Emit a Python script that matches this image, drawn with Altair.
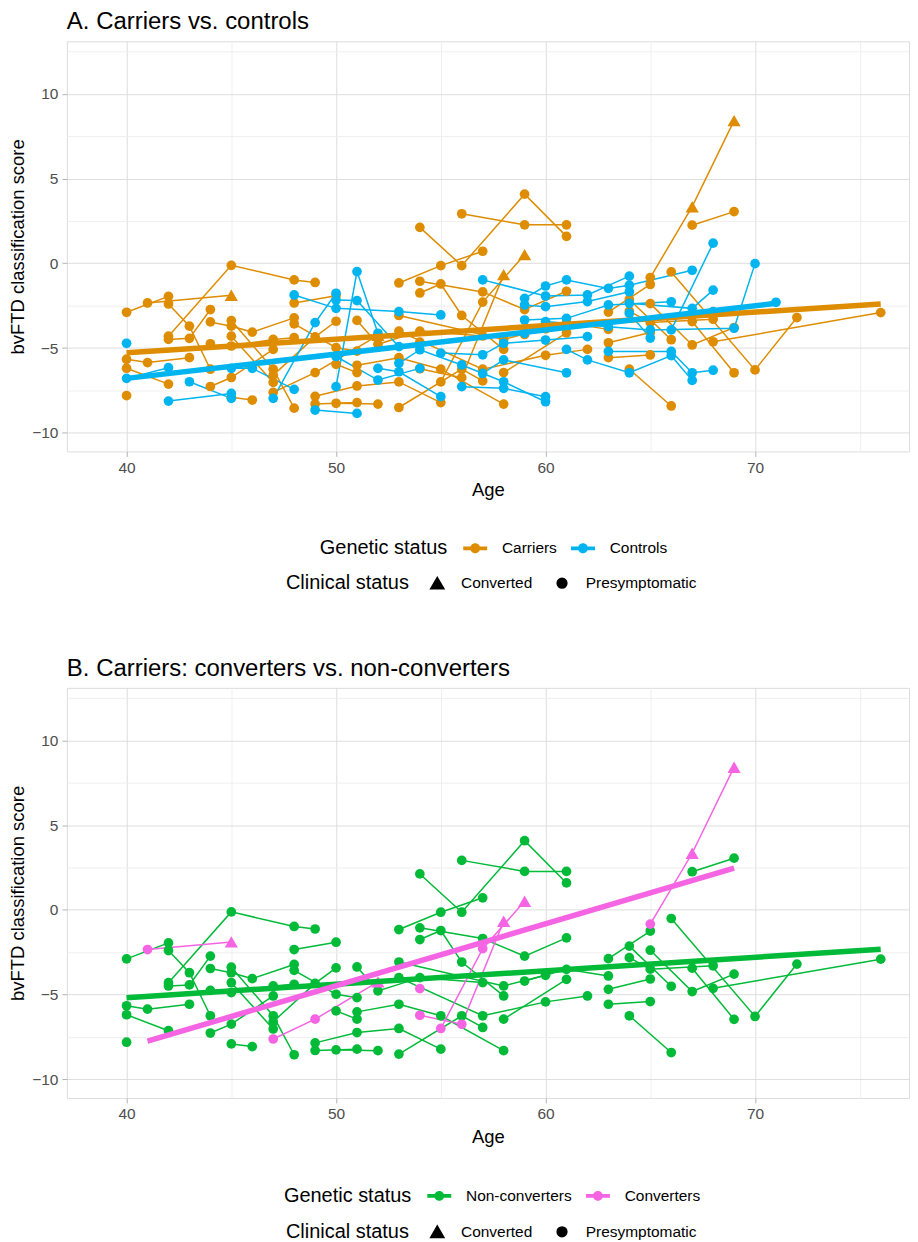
import altair as alt
import pandas as pd

FONT = "Liberation Sans"

# ---- Carriers who did not convert (green in B, orange in A) ----
nc_id = [1, 1, 2, 2, 2, 3, 3, 4, 5, 5, 5, 6, 6, 6, 6, 7, 7, 7, 8, 8, 8, 8,
         9, 9, 9, 10, 10, 10, 11, 11, 12, 12, 13, 13, 13, 14, 14, 14, 15, 15,
         16, 16, 16, 17, 17, 18, 18, 18, 18, 19, 19, 20, 21, 21,
         22, 22, 22, 22, 23, 23, 23, 23, 24, 24, 24, 25, 25, 25, 25,
         26, 26, 26, 27, 27, 27, 28, 28, 28, 28, 29, 29, 29, 29,
         30, 30, 30, 31, 31, 31, 31, 34, 34, 35, 35, 35,
         36, 36, 36, 37, 37, 38, 38, 39, 39, 39, 40, 40, 41, 41, 42, 42,
         43, 43, 44, 44, 44, 45, 45, 46, 46]
nc_age = [40, 42, 40, 41, 43, 40, 42, 40, 42, 43, 44, 42, 45, 48, 49, 42, 43, 44, 44, 45, 46, 48,
          44, 45, 47, 45, 47, 48, 45, 47, 45, 46, 45, 47, 48, 47, 49, 50, 48, 50,
          48, 50, 51, 50, 51, 49, 51, 53, 55, 49, 51, 44, 50, 52,
          51, 53, 55, 58, 51, 52, 54, 57, 53, 56, 57, 54, 56, 59, 61,
          56, 59, 61, 53, 55, 57, 54, 55, 56, 58, 54, 57, 59, 61,
          53, 58, 60, 53, 57, 60, 62, 58, 61, 59, 61, 63,
          66, 70, 72, 68, 76, 67, 69, 65, 67, 69, 64, 66, 64, 66, 67, 69,
          63, 65, 64, 65, 68, 63, 65, 63, 65]
nc_score = [-2.89, -1.95, -5.66, -5.86, -5.57, -6.19, -7.13, -7.81, -2.40, -3.71, -6.25,
            -4.30, -0.12, -0.98, -1.13, -4.49, -4.43, -2.73, -3.46, -3.71, -4.06, -3.22,
            -7.27, -6.74, -5.08, -3.38, -6.25, -8.55, -4.30, -7.03, -7.91, -8.07,
            -4.88, -4.49, -4.39, -6.60, -4.34, -3.42, -2.34, -1.91,
            -3.57, -4.98, -5.18, -5.96, -6.45, -7.85, -7.24, -7.00, -8.22, -8.30, -8.22,
            -4.75, -8.26, -8.31,
            -6.02, -5.57, -6.25, -8.31, -3.37, -4.78, -4.00, -4.29, -8.51, -6.25, -6.94,
            2.12, -0.14, 4.08, 1.59, 2.92, 2.27, 2.27, -1.16, -0.14, 0.71,
            -1.75, -1.22, -3.08, -5.08, -1.06, -1.69, -2.73, -1.65,
            -3.08, -4.49, -3.86, -4.00, -6.25, -5.43, -5.08, -6.45, -4.10, -4.20, -3.51, -3.90,
            -0.51, -6.29, -3.20, -4.63, -2.91, -3.44, -6.46, -2.38, -4.82, -3.79,
            -6.25, -8.42, -2.14, -4.51, 2.25, 3.05,
            -2.88, -1.25, -2.82, -3.50, -3.30, -5.57, -5.41, -4.69, -4.08]

# ---- Carriers who converted (pink in B, orange in A) ----
cv_id = [101, 101, 102, 102, 102, 103, 103, 103, 104, 105, 105, 105, 106, 106, 106]
cv_age = [41, 45, 47, 49, 52, 54, 56, 58, 54, 55, 57, 59, 65, 67, 69]
cv_score = [-2.34, -1.89, -7.62, -6.45, -4.25, -6.22, -6.75, -0.67, -4.65,
            -7.00, -2.29, 0.51, -0.84, 3.34, 8.42]
cv_status = ["Presymptomatic", "Converted", "Presymptomatic", "Presymptomatic", "Converted",
             "Presymptomatic", "Presymptomatic", "Converted", "Presymptomatic",
             "Presymptomatic", "Presymptomatic", "Converted", "Presymptomatic",
             "Converted", "Converted"]

# ---- Controls (blue in A) ----
ct_id = [201, 202, 202, 203, 203, 204, 204, 205, 205, 205, 206, 206, 206,
         207, 207, 207, 207, 208, 208, 208, 209, 209, 211, 211, 211, 212, 212, 212,
         214, 214, 214, 215, 215, 215, 215, 215, 216, 216, 216, 216, 216,
         217, 217, 217, 217, 218, 218, 218, 219, 219, 219,
         220, 220, 220, 220, 220, 220, 221, 221, 221, 221, 222, 222, 222, 222,
         223, 223, 223, 223, 223, 223, 224, 224, 226, 226, 226, 226, 226,
         227, 227, 227, 227, 228, 228, 229, 229, 229, 231, 231]
ct_age = [40, 40, 42, 42, 45, 43, 45, 45, 46, 48, 47, 49, 50,
          48, 50, 53, 55, 50, 51, 52, 49, 51, 50, 51, 53, 50, 52, 54,
          52, 53, 55, 53, 54, 56, 58, 60, 55, 57, 58, 60, 62,
          57, 60, 62, 64, 56, 58, 60, 57, 58, 61,
          59, 60, 61, 63, 64, 67, 59, 60, 62, 64, 59, 61, 63, 66,
          59, 60, 63, 65, 69, 70, 66, 68, 61, 62, 64, 66, 67,
          63, 66, 67, 68, 64, 65, 64, 67, 68, 68, 71]
ct_score = [-4.72, -6.79, -6.16, -8.13, -7.68, -6.99, -7.97, -6.20, -6.20, -7.44,
            -7.97, -3.50, -1.77, -1.87, -2.66, -2.85, -3.05, -7.28, -0.49, -4.13,
            -8.66, -8.86, -2.17, -2.20, -4.92, -5.50, -6.89, -6.20,
            -6.20, -6.40, -7.87, -5.90, -5.10, -6.00, -6.99, -8.17,
            -5.30, -5.40, -4.72, -4.53, -4.33, -0.98, -1.93, -1.87, -0.76,
            -7.28, -7.38, -7.87, -6.50, -5.70, -6.46,
            -2.07, -1.34, -0.98, -1.48, -1.29, -0.41, -2.46, -2.56, -2.26, -1.68,
            -3.35, -3.25, -2.46, -2.27, -4.13, -3.44, -3.74, -3.93, -3.83, -0.02,
            -3.93, 1.19, -5.08, -5.70, -6.46, -5.45, -6.91,
            -5.20, -5.20, -6.46, -6.31, -2.95, -4.41, -2.36, -2.66, -1.58, -2.85, -2.30]

# ---- Group trend lines (end points) ----
trendA_group = ["Carriers", "Carriers", "Controls", "Controls"]
trendA_age = [40, 76, 40, 71]
trendA_score = [-5.28, -2.40, -6.79, -2.36]
trendB_group = ["Non-converters", "Non-converters", "Converters", "Converters"]
trendB_age = [40, 76, 41, 69]
trendB_score = [-5.18, -2.32, -7.75, 2.46]

groupsA = ["Carriers", "Controls"]
colorsA = ["#DE8C00", "#00B4F0"]
groupsB = ["Non-converters", "Converters"]
colorsB = ["#00BA38", "#F564E3"]
status_domain = ["Converted", "Presymptomatic"]
status_shapes = ["triangle-up", "circle"]
status_sizes = [175, 95]

# ---- tables ----
nc = pd.DataFrame({"subject": nc_id, "age": nc_age, "score": nc_score,
                   "status": "Presymptomatic"})
cv = pd.DataFrame({"subject": cv_id, "age": cv_age, "score": cv_score, "status": cv_status})
ct = pd.DataFrame({"subject": ct_id, "age": ct_age, "score": ct_score,
                   "status": "Presymptomatic"})

dfA = pd.concat([nc.assign(group="Carriers"), cv.assign(group="Carriers"),
                 ct.assign(group="Controls")], ignore_index=True)
dfB = pd.concat([nc.assign(group="Non-converters"), cv.assign(group="Converters")],
                ignore_index=True)
trA = pd.DataFrame({"group": trendA_group, "age": trendA_age, "score": trendA_score})
trB = pd.DataFrame({"group": trendB_group, "age": trendB_age, "score": trendB_score})

XDOM = [37.15, 77.35]
YDOM = [-11.1, 13.1]
W, H = 844, 411

legend_symbol = ("M-2.4,-0.38L2.4,-0.38L2.4,0.38L-2.4,0.38Z"
                 "M-1,0A1,1 0 1,1 1,0A1,1 0 1,1 -1,0Z")

xaxis = alt.Axis(
    values=[40, 45, 50, 55, 60, 65, 70, 75],
    labelExpr="datum.value % 10 === 0 ? datum.label : ''",
    title="Age", titleFontSize=18.5, titleFont=FONT, titleFontWeight="normal",
    titleColor="black", titlePadding=5,
    labelFont=FONT, labelFontSize=15.5, labelColor="#4d4d4d", labelPadding=4,
    tickSize=5, tickColor="#b3b3b3",
    tickOpacity={"condition": {"test": "datum.value % 10 === 0", "value": 1}, "value": 0},
    gridColor={"condition": {"test": "datum.value % 10 === 0", "value": "#dedede"},
               "value": "#efefef"},
    gridWidth=1, domain=False,
)
yaxis = alt.Axis(
    values=[-10, -7.5, -5, -2.5, 0, 2.5, 5, 7.5, 10, 12.5],
    labelExpr="datum.value % 5 === 0 ? datum.label : ''",
    title="bvFTD classification score", titleFontSize=18.5, titleFont=FONT,
    titleFontWeight="normal", titleColor="black", titlePadding=4,
    labelFont=FONT, labelFontSize=15.5, labelColor="#4d4d4d", labelPadding=4,
    tickSize=5, tickColor="#b3b3b3",
    tickOpacity={"condition": {"test": "datum.value % 5 === 0", "value": 1}, "value": 0},
    gridColor={"condition": {"test": "datum.value % 5 === 0", "value": "#dedede"},
               "value": "#efefef"},
    gridWidth=1, domain=False,
)


def panel(df, tr, groups, colors, title, gx, gy, sx, sy):
    X = alt.X("age:Q", scale=alt.Scale(domain=XDOM, nice=False, zero=False), axis=xaxis)
    Y = alt.Y("score:Q", scale=alt.Scale(domain=YDOM, nice=False, zero=False), axis=yaxis)
    cscale = alt.Scale(domain=groups, range=colors)
    color = alt.Color(
        "group:N", scale=cscale, sort=groups,
        legend=alt.Legend(
            title="Genetic status", orient="none", legendX=gx, legendY=gy,
            direction="horizontal", titleOrient="left", titleFont=FONT,
            titleFontSize=20, titleFontWeight="normal", titleColor="black",
            titlePadding=20, labelFont=FONT, labelFontSize=15.5, labelColor="black",
            labelOffset=19, columnPadding=13, symbolType=legend_symbol,
            symbolSize=100, symbolStrokeWidth=0, symbolOpacity=1,
        ),
    )
    slegend = alt.Legend(
        title="Clinical status", orient="none", legendX=sx, legendY=sy,
        direction="horizontal", titleOrient="left", titleFont=FONT,
        titleFontSize=20, titleFontWeight="normal", titleColor="black",
        titlePadding=20, labelFont=FONT, labelFontSize=15.5, labelColor="black",
        labelOffset=16, columnPadding=20, symbolFillColor="black",
        symbolStrokeColor="black", symbolOpacity=1,
    )
    shape = alt.Shape("status:N", scale=alt.Scale(domain=status_domain, range=status_shapes),
                      legend=slegend)
    size = alt.Size("status:N", scale=alt.Scale(domain=status_domain, range=status_sizes),
                    legend=slegend)
    lines = alt.Chart(df).mark_line(strokeWidth=1.5, clip=True).encode(
        x=X, y=Y, color=color, detail="subject:N", order="age:Q")
    pts = alt.Chart(df).mark_point(filled=True, opacity=1).encode(
        x=X, y=Y, color=color, shape=shape, size=size)
    trend = alt.Chart(tr).mark_line(strokeWidth=5.5, clip=True).encode(
        x=X, y=Y, color=color, detail="group:N")
    return alt.layer(lines, pts, trend).properties(
        width=W, height=H,
        title=alt.TitleParams(title, anchor="start", font=FONT, fontSize=24,
                              fontWeight="normal", color="black", offset=7,
                              frame="group"),
    )


pA = panel(dfA, trA, groupsA, colorsA, "A. Carriers vs. controls", 253.5, 500, 219.5, 535)
pB = panel(dfB, trB, groupsB, colorsB, "B. Carriers: converters vs. non-converters",
           217.5, 501, 219.5, 537)

chart = alt.vconcat(pA, pB, spacing=62).resolve_scale(
    color="independent", shape="independent", size="independent"
).properties(
    padding={"left": 0, "top": 0, "right": 0, "bottom": 5}
).configure_view(
    stroke="#b3b3b3", strokeWidth=1.2
).configure(background="white")

chart.save("out.html", embed_options={"renderer": "svg", "actions": False})
